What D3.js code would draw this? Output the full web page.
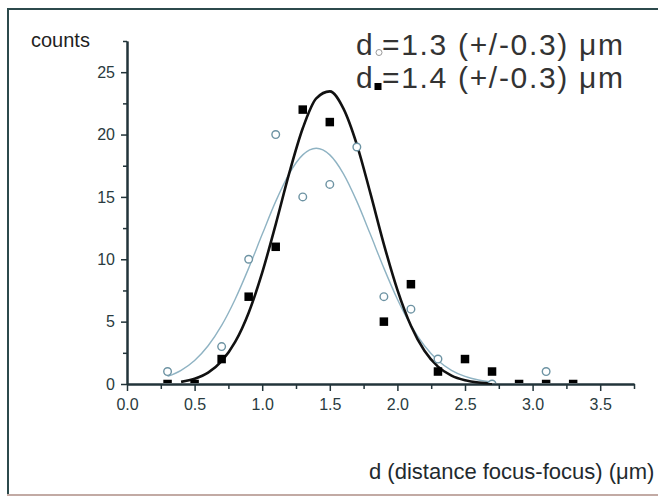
<!DOCTYPE html>
<html>
<head>
<meta charset="utf-8">
<script src="https://cdn.jsdelivr.net/npm/d3@7"></script>
<style>
  body { margin: 0; background: #fff; }
  svg { display: block; font-family: "Liberation Sans", Arial, sans-serif; }
</style>
</head>
<body>
<svg id="chart" width="658" height="497"></svg>
<script>
// distances (um) and counts
const squareX      = [0.3, 0.5, 0.7, 0.9, 1.1, 1.3, 1.5, 1.9, 2.1, 2.3, 2.5, 2.7, 2.9, 3.1, 3.3];
const squareCounts = [0,   0,   2,   7,   11,  22,  21,  5,   8,   1,   2,   1,   0,   0,   0];

const circleX      = [0.3, 0.7, 0.9, 1.1, 1.3, 1.5, 1.7, 1.9, 2.1, 2.3, 2.7, 3.1];
const circleCounts = [1,   3,   10,  20,  15,  16,  19,  7,   6,   2,   0,   1];

// fitted curves
const blackFitX = [0.4, 0.5, 0.6, 0.7, 0.8, 0.9, 1.0, 1.1, 1.2, 1.3, 1.4, 1.5, 1.6, 1.7, 1.8, 1.9, 2.0, 2.1, 2.2, 2.3, 2.4, 2.5, 2.6, 2.7];
const blackFitY = [0.17, 0.42, 0.91, 1.83, 3.37, 5.72, 8.93, 12.8, 16.9, 20.5, 22.9, 23.46, 22.1, 19.2, 15.3, 11.2, 7.55, 4.67, 2.66, 1.39, 0.67, 0.3, 0.12, 0.05];

const grayFitX = [0.3, 0.4, 0.5, 0.6, 0.7, 0.8, 0.9, 1.0, 1.1, 1.2, 1.3, 1.4, 1.5, 1.6, 1.7, 1.8, 1.9, 2.0, 2.1, 2.2, 2.3, 2.4, 2.5, 2.6, 2.7];
const grayFitY = [0.61, 1.1, 1.89, 3.07, 4.7, 6.8, 9.29, 12.0, 14.64, 16.87, 18.37, 18.9, 18.37, 16.87, 14.64, 12.0, 9.29, 6.8, 4.7, 3.07, 1.89, 1.1, 0.61, 0.32, 0.16];

const xMajorTicks = [0, 0.5, 1.0, 1.5, 2.0, 2.5, 3.0, 3.5];
const xMinorTicks = [0.25, 0.75, 1.25, 1.75, 2.25, 2.75, 3.25, 3.75];
const yMajorTicks = [0, 5, 10, 15, 20, 25];
const yMinorTicks = [2.5, 7.5, 12.5, 17.5, 22.5, 27.5];

const legendValues = ["=1.3 (+/-0.3) \u03bcm", "=1.4 (+/-0.3) \u03bcm"];
const yTitle = "counts";
const xTitle = "d (distance focus-focus) (\u03bcm)";

const AXIS_COLOR = "#22343a";
const TEXT_COLOR = "#2a3b40";
const CIRCLE_COLOR = "#6d93a3";
const GRAY_FIT_COLOR = "#8fb3c3";

let svg = d3.select("#chart");

// outer frame
svg.append("line")
    .attr("x1", 8).attr("y1", 9).attr("x2", 8).attr("y2", 495)
    .attr("stroke", "#2c4a4c").attr("stroke-width", 2);
svg.append("line")
    .attr("x1", 7).attr("y1", 9).attr("x2", 658).attr("y2", 9)
    .attr("stroke", "#2c4a4c").attr("stroke-width", 2);
svg.append("line")
    .attr("x1", 7).attr("y1", 495).attr("x2", 658).attr("y2", 495)
    .attr("stroke", "#c2aaa4").attr("stroke-width", 2);

let x = d3.scaleLinear().domain([0, 3.75]).range([127, 634]);
let y = d3.scaleLinear().domain([0, 27.5]).range([384, 41]);

svg.append("defs").append("clipPath")
    .attr("id", "plot-clip")
    .append("rect")
    .attr("x", 120).attr("y", 0)
    .attr("width", 530).attr("height", 383);

// x axis
let xMinor = svg.append("g")
    .attr("transform", "translate(0," + y(0) + ")")
    .call(d3.axisBottom(x).tickValues(xMinorTicks).tickSize(5).tickSizeOuter(0).tickFormat(""));
let xMajor = svg.append("g")
    .attr("transform", "translate(0," + y(0) + ")")
    .call(d3.axisBottom(x).tickValues(xMajorTicks).tickSize(7).tickSizeOuter(0)
        .tickPadding(8).tickFormat(d3.format(".1f")));

// y axis
let yMinor = svg.append("g")
    .attr("transform", "translate(" + x(0) + ",0)")
    .call(d3.axisLeft(y).tickValues(yMinorTicks).tickSize(4).tickSizeOuter(0).tickFormat(""));
let yMajor = svg.append("g")
    .attr("transform", "translate(" + x(0) + ",0)")
    .call(d3.axisLeft(y).tickValues(yMajorTicks).tickSize(6).tickSizeOuter(0)
        .tickPadding(6).tickFormat(d3.format("d")));

[xMinor, xMajor, yMinor, yMajor].forEach(g => {
    g.selectAll(".domain").attr("stroke", AXIS_COLOR).attr("stroke-width", 2);
    g.selectAll(".tick line").attr("stroke", AXIS_COLOR).attr("stroke-width", 1.5);
    g.selectAll(".tick text")
        .attr("fill", TEXT_COLOR)
        .attr("font-size", 16)
        .attr("font-family", "'Liberation Sans', Arial, sans-serif");
});

// fitted curves
let line = d3.line()
    .x(d => x(d[0]))
    .y(d => y(d[1]))
    .curve(d3.curveMonotoneX);

svg.append("path")
    .datum(d3.zip(grayFitX, grayFitY))
    .attr("d", line)
    .attr("fill", "none")
    .attr("stroke", GRAY_FIT_COLOR)
    .attr("stroke-width", 1.4);

svg.append("path")
    .datum(d3.zip(blackFitX, blackFitY))
    .attr("d", line)
    .attr("fill", "none")
    .attr("stroke", "#111")
    .attr("stroke-width", 2.6);

// data markers
let marks = svg.append("g").attr("clip-path", "url(#plot-clip)");

marks.selectAll("circle")
    .data(d3.zip(circleX, circleCounts))
    .join("circle")
    .attr("cx", d => x(d[0]))
    .attr("cy", d => y(d[1]))
    .attr("r", 3.8)
    .attr("fill", "#fff")
    .attr("stroke", CIRCLE_COLOR)
    .attr("stroke-width", 1.4);

marks.selectAll("rect")
    .data(d3.zip(squareX, squareCounts))
    .join("rect")
    .attr("x", d => x(d[0]) - 4.25)
    .attr("y", d => y(d[1]) - 4.25)
    .attr("width", 8.5)
    .attr("height", 8.5)
    .attr("fill", "#000");

// axis titles
svg.append("text")
    .attr("x", 31)
    .attr("y", 47)
    .attr("font-size", 20)
    .attr("fill", "#1f1f1f")
    .text(yTitle);

svg.append("text")
    .attr("x", 369)
    .attr("y", 479)
    .attr("font-size", 22)
    .attr("fill", "#1f2a2e")
    .text(xTitle);

// legend with fitted means
let legend = svg.append("g").attr("fill", "#333");
legendValues.forEach((txt, i) => {
    let base = 55 + i * 33;
    legend.append("text")
        .attr("x", 356)
        .attr("y", base)
        .attr("font-size", 30)
        .text("d");
    legend.append("text")
        .attr("x", 382)
        .attr("y", base)
        .attr("font-size", 30)
        .attr("textLength", 241)
        .attr("lengthAdjust", "spacing")
        .text(txt);
});
legend.append("circle")
    .attr("cx", 379)
    .attr("cy", 52.5)
    .attr("r", 3)
    .attr("fill", "#fff")
    .attr("stroke", "#999")
    .attr("stroke-width", 1);
legend.append("rect")
    .attr("x", 374.5)
    .attr("y", 83)
    .attr("width", 7)
    .attr("height", 7)
    .attr("fill", "#000");
</script>
</body>
</html>
